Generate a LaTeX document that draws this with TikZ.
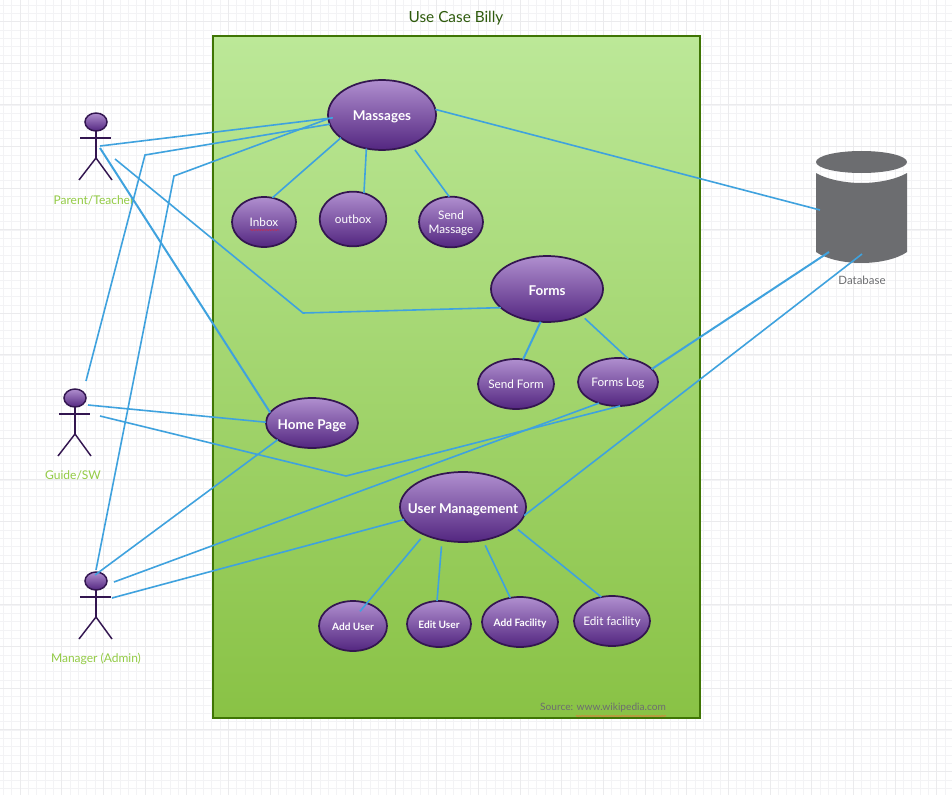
\documentclass[tikz,border=0pt]{standalone}
\usepackage{fontspec}
\setmainfont{Lato}
\usetikzlibrary{shapes.geometric,decorations.pathmorphing}
\definecolor{linkc}{HTML}{3FA2DE}
\definecolor{boxedge}{HTML}{3F7504}
\definecolor{boxtop}{HTML}{BCE898}
\definecolor{boxbot}{HTML}{89C245}
\definecolor{pTop}{HTML}{B08FCF}
\definecolor{pBot}{HTML}{532680}
\definecolor{pEdge}{HTML}{331650}
\definecolor{actorlabel}{HTML}{93CB45}
\definecolor{dbgray}{HTML}{6C6D70}
\definecolor{titlegreen}{HTML}{2E5A0C}
\definecolor{gridc}{HTML}{F3F3F5}
\definecolor{gridm}{HTML}{EBEBED}
\definecolor{squigred}{HTML}{B5305F}
\definecolor{squigorange}{HTML}{D9803A}
\tikzset{
  x=0.75pt,y=-0.75pt,
  uc/.style={ellipse,draw=pEdge,line width=1.3pt,top color=pTop,bottom color=pBot,
    inner sep=-20pt,outer sep=0pt,text=white,align=center,text depth=0pt},
  ucbig/.style={uc,text height=9pt,font=\fontsize{10.1}{12}\selectfont\bfseries},
  ucmid/.style={uc,font=\fontsize{8.8}{10.5}\selectfont},
  ucsmall/.style={uc,text height=7pt,font=\fontsize{7.6}{10}\selectfont\bfseries},
  link/.style={draw=linkc,line width=1.2pt},
  linkthick/.style={draw=linkc,line width=1.5pt},
  squiggle/.style={line width=0.55pt,decorate,decoration={snake,amplitude=0.35pt,segment length=2pt}},
  actorline/.style={draw=pEdge,line width=1.1pt},
  actorhead/.style={ellipse,draw=pEdge,line width=1.1pt,top color=pTop,bottom color=pBot,
    minimum width=16.5pt,minimum height=13.5pt,inner sep=0pt,outer sep=0pt},
  actorlab/.style={text=actorlabel,font=\fontsize{9}{10}\selectfont,inner sep=0pt},
  gridminor/.style={draw=gridc,line width=0.6pt},
  gridmajor/.style={draw=gridm,line width=0.7pt},
  pics/actor/.style={code={
    \node[actorhead] (head) at (0,0) {};
    \draw[actorline] (0,9) -- (0,36);
    \draw[actorline] (-16,16) -- (15,16);
    \draw[actorline] (-17,58) -- (0,36) -- (16,58);
  }},
}
\begin{document}
\begin{tikzpicture}
\useasboundingbox (0,0) rectangle (952,795);
\fill[white] (0,0) rectangle (952,795);
% background grid
\foreach \i in {0,...,113}{\draw[gridminor] ({3.33+8.333*\i},0) -- ({3.33+8.333*\i},795);}
\foreach \i in {0,...,94}{\draw[gridminor] (0,{4.97+8.333*\i}) -- (952,{4.97+8.333*\i});}
\foreach \i in {0,...,22}{\draw[gridmajor] ({20+41.667*\i},0) -- ({20+41.667*\i},795);}
\foreach \i in {0,...,18}{\draw[gridmajor] (0,{21.6+41.667*\i}) -- (952,{21.6+41.667*\i});}

\node[text=titlegreen,font=\fontsize{11.5}{13}\selectfont,inner sep=0pt] (title) at (456,18.5) {Use Case Billy};

% system boundary
\node[rectangle,draw=boxedge,line width=1.5pt,top color=boxtop,bottom color=boxbot,
  minimum width=365.25pt,minimum height=511.5pt,inner sep=0pt] (system) at (456.5,377) {};
\node[text=dbgray,font=\fontsize{7.6}{9}\selectfont,inner sep=0pt] (source) at (603,708) {Source: www.wikipedia.com};
\draw[draw=squigorange,squiggle] (576,716) -- (666,716);

% database
\fill[dbgray] (816,162) arc[x radius=45.5,y radius=-11,start angle=180,end angle=-180];
\fill[dbgray] (816,173) .. controls (826,179) and (844,183) .. (861.5,183)
  .. controls (879,183) and (897,179) .. (907,173) -- (907,252)
  .. controls (897,259) and (879,263) .. (861.5,263)
  .. controls (844,263) and (826,259) .. (816,252) -- cycle;
\node[text=dbgray,font=\fontsize{8.6}{10}\selectfont,inner sep=0pt] (dblabel) at (862,280) {Database};
\coordinate (dbA) at (820,210);
\coordinate (dbB) at (829,252);
\coordinate (dbC) at (862,254);

% use cases
\node[ucbig,minimum width=81pt,minimum height=52.5pt] (massages) at (382,115) {Massages};
\node[ucmid,minimum width=48pt,minimum height=37.5pt] (inbox) at (264,222) {Inbox};
\node[ucmid,minimum width=50pt,minimum height=41pt] (outbox) at (353,219) {outbox};
\node[ucmid,minimum width=48pt,minimum height=38pt] (sendm) at (451,222) {Send\\Massage};
\node[ucbig,minimum width=84pt,minimum height=49.5pt] (forms) at (547,289) {Forms};
\node[ucmid,minimum width=57pt,minimum height=37.5pt] (sendf) at (516,384) {Send Form};
\node[ucmid,minimum width=60pt,minimum height=36pt] (formslog) at (618,382) {Forms Log};
\node[ucbig,minimum width=69pt,minimum height=37.5pt] (home) at (312,423) {Home Page};
\node[ucbig,minimum width=94.5pt,minimum height=52.5pt] (um) at (463,507) {User Management};
\node[ucsmall,minimum width=51pt,minimum height=37.5pt] (adduser) at (353,626) {Add User};
\node[ucsmall,minimum width=48pt,minimum height=34.5pt] (edituser) at (439,624) {Edit User};
\node[ucsmall,minimum width=57pt,minimum height=37.5pt] (addfac) at (520,622) {Add Facility};
\node[ucmid,minimum width=57pt,minimum height=37.5pt] (editfac) at (612,621) {Edit facility};

% actors
\pic (parent) at (96,122) {actor};
\pic (guide) at (75,398) {actor};
\pic (manager) at (96,581) {actor};
\node[actorlab] (parentlab) at (94,200.5) {Parent/Teacher};
\node[actorlab] (guidelab) at (73,475.5) {Guide/SW};
\node[actorlab] (managerlab) at (96,658.5) {Manager (Admin)};

% free ends at the actors and bend points
\coordinate (pA) at (100,146);
\coordinate (pB) at (100,148);
\coordinate (pC) at (115,159);
\coordinate (gA) at (86,381);
\coordinate (gB) at (88,405);
\coordinate (gC) at (100,416);
\coordinate (mA) at (96,570);
\coordinate (mB) at (114,582);
\coordinate (mC) at (112,598);
\coordinate (mD) at (95,575);
\coordinate (bendG) at (145,155);
\coordinate (bendM) at (174,176);
\coordinate (bendF) at (303,313);
\coordinate (bendH) at (346,476);

% connectors
\draw[link] (pA) -- ([xshift=3.5pt]massages.183);
\draw[link] (gA) -- (bendG) -- (massages.190);
\draw[link] (mA) -- (bendM) -- (massages.184);
\draw[linkthick] (pB) -- (home.166);
\draw[link] (pC) -- (bendF) -- (forms.202);
\draw[link] (massages.6) -- (dbA);
\draw[link] (massages.209) -- (inbox.71);
\draw[link] (massages.245) -- (outbox.67);
\draw[link] ([shift={(3.75pt,-3.75pt)}]massages.313) -- (sendm.94);
\draw[linkthick] (forms.259) -- (sendf.74);
\draw[link] ([shift={(3pt,-2.25pt)}]forms.322) -- (formslog.66);
\draw[linkthick] (formslog.21) -- (dbB);
\draw[link] (gB) -- (home.179);
\draw[link] (gC) -- (bendH) -- (formslog.275);
\draw[link] (mB) -- (formslog.228);
\draw[link] (mC) -- (um.192);
\draw[link] (mD) -- (home.206);
\draw[link] (um.352) -- (dbC);
\draw[link] ([shift={(-3pt,-3pt)}]um.216) -- ([xshift=-3pt,yshift=-6.75pt]adduser.65);
\draw[link] ([shift={(-2.25pt,-4.5pt)}]um.241) -- (edituser.95);
\draw[link] ([shift={(2.25pt,-3.75pt)}]um.300) -- (addfac.112);
\draw[link] ([shift={(3pt,-1.5pt)}]um.338) -- (editfac.114);

% spell-check underline under Inbox
\draw[draw=squigred,squiggle] (250,230) -- (279,230);
\end{tikzpicture}
\end{document}
